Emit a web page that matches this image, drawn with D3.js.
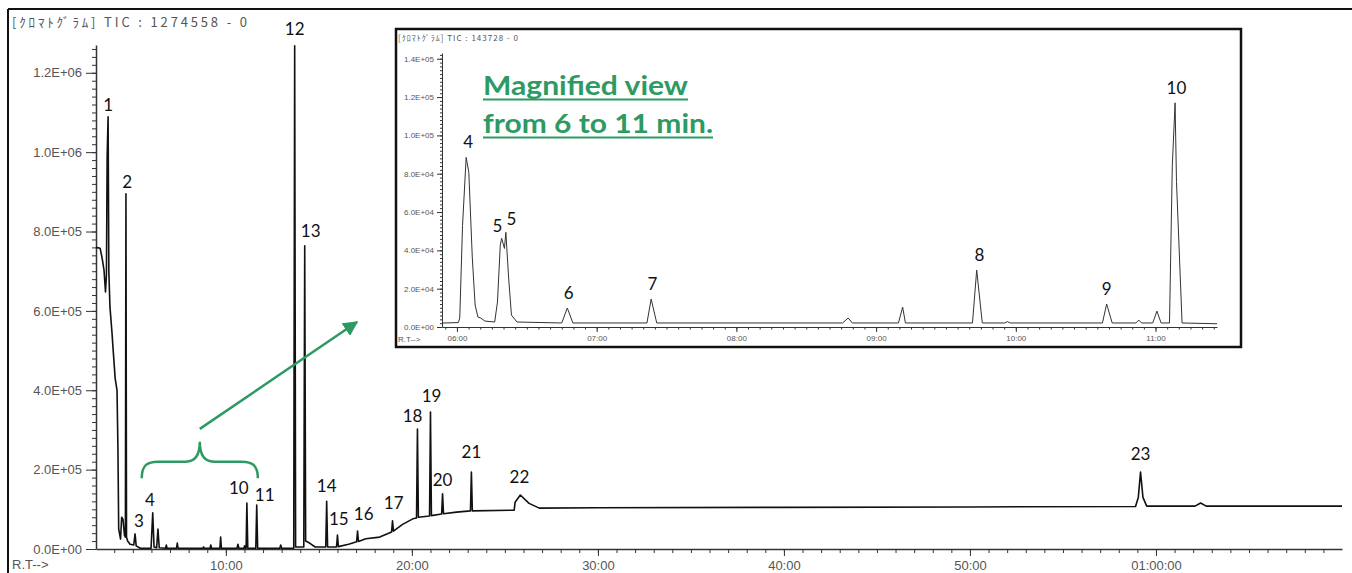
<!DOCTYPE html>
<html>
<head>
<meta charset="utf-8">
<script src="https://cdn.jsdelivr.net/npm/d3@7"></script>
<style>
  body { margin: 0; background: #fff; }
  svg { display: block; }
  .axis .tick text { font-family: "Liberation Sans", Arial, sans-serif; fill: #555; }
  .axis path, .axis line { stroke: #333; }
  .peak-label { font-family: Lato, "Open Sans", sans-serif; font-size: 17px; fill: #111; text-anchor: middle; }
  .header { font-family: "Noto Sans CJK JP", "Liberation Sans", sans-serif; fill: #555; }
</style>
</head>
<body>
<svg id="chart" width="1352" height="573"></svg>
<script>
// retention time (min), TIC intensity
const mainTrace = [
  [3.02, 760000], [3.24, 758000], [3.35, 733000], [3.45, 703000], [3.53, 648000],
  [3.58, 690000], [3.62, 990000], [3.67, 1089000], [3.71, 700000], [3.77, 610000],
  [3.88, 545000], [3.93, 510000], [4.05, 430000], [4.15, 400000], [4.20, 250000],
  [4.24, 50000], [4.34, 25000], [4.40, 80000], [4.47, 75000], [4.55, 35000],
  [4.60, 30000], [4.63, 895000], [4.66, 30000], [4.72, 20000], [4.85, 12000],
  [5.05, 10000], [5.12, 38000], [5.18, 8000], [5.40, 2000],
  [5.98, 2000], [6.07, 91000], [6.14, 5000], [6.28, 3000], [6.35, 50000], [6.42, 3000],
  [6.76, 2000], [6.80, 10000], [6.84, 2000], [7.35, 2000], [7.39, 15000], [7.43, 2000],
  [8.76, 2000], [8.80, 5000], [8.84, 2000], [9.15, 2000], [9.19, 10000], [9.23, 2000],
  [9.68, 2000], [9.72, 30000], [9.76, 2000], [10.60, 2000], [10.65, 12000], [10.70, 2000],
  [10.97, 2000], [11.01, 8000], [11.05, 2000], [11.09, 2000], [11.13, 116000], [11.18, 2000],
  [11.61, 2000], [11.66, 111000], [11.71, 2000], [12.90, 2000], [12.95, 10000], [13.00, 2000],
  [13.65, 2000], [13.70, 1268000], [13.75, 5000], [14.19, 5000], [14.24, 764000], [14.29, 20000],
  [14.50, 15000], [14.80, 5000], [15.37, 5000], [15.42, 120000], [15.47, 5000],
  [15.95, 5000], [16.00, 35000], [16.05, 6000], [16.60, 12000],
  [17.03, 18000], [17.08, 45000], [17.13, 19000], [17.52, 26000], [18.27, 30000],
  [18.91, 43000], [18.96, 71000], [19.01, 45000], [19.50, 62000], [20.05, 76000],
  [20.25, 78000], [20.30, 302000], [20.35, 80000], [20.95, 83000], [21.00, 345000], [21.05, 84000],
  [21.60, 88000], [21.65, 139000], [21.70, 89000], [22.40, 93000],
  [23.15, 96000], [23.20, 194000], [23.25, 96000], [25.50, 98000], [25.55, 118000],
  [25.83, 136000], [26.30, 115000], [26.85, 103000], [30.00, 104000], [40.00, 105000],
  [50.00, 106000], [58.90, 107000], [59.05, 130000], [59.17, 194000], [59.30, 130000],
  [59.50, 108000], [62.10, 108000], [62.40, 116000], [62.70, 108000], [70.00, 108000]
];

// label, rt, intensity at label baseline
const mainPeakLabels = [
  ["1", 3.67, 1104000], ["2", 4.69, 910000], ["3", 5.33, 55000], ["4", 5.92, 108000],
  ["10", 10.70, 139000], ["11", 12.09, 121000], ["12", 13.70, 1296000], ["13", 14.56, 786000],
  ["14", 15.42, 144000], ["15", 16.07, 60000], ["16", 17.41, 73000], ["17", 19.02, 101000],
  ["18", 20.04, 320000], ["19", 21.06, 371000], ["20", 21.65, 159000], ["21", 23.20, 229000],
  ["22", 25.78, 166000], ["23", 59.17, 224000]
];

// magnified 6-11 min window
const insetTrace = [
  [5.90, 2100], [6.01, 2300], [6.02, 4700], [6.04, 53000], [6.066, 88500], [6.085, 80700],
  [6.11, 36000], [6.13, 11500], [6.15, 5200], [6.17, 4700], [6.20, 3100], [6.27, 2600],
  [6.29, 13000], [6.31, 42700], [6.32, 46300], [6.34, 41000], [6.35, 49400], [6.37, 25500],
  [6.39, 6200], [6.43, 2600], [6.75, 2100], [6.79, 9900], [6.83, 2100], [7.36, 2100],
  [7.39, 14600], [7.43, 2100], [8.76, 2100], [8.80, 4700], [8.83, 2100], [9.16, 2100],
  [9.19, 10400], [9.21, 2100], [9.69, 2100], [9.72, 29700], [9.76, 2100], [9.92, 2100],
  [9.94, 2800], [9.96, 2100], [10.62, 2100], [10.65, 12000], [10.69, 2100], [10.86, 2100],
  [10.88, 3600], [10.90, 2100], [10.98, 2100], [11.01, 8300], [11.04, 2100], [11.10, 2100],
  [11.12, 84000], [11.14, 117000], [11.15, 76000], [11.19, 2100], [11.44, 1700]
];

const insetPeakLabels = [
  ["4", 6.08, 93200], ["5", 6.29, 49400], ["5", 6.39, 53100], ["6", 6.80, 14600],
  ["7", 7.40, 19300], ["8", 9.74, 34300], ["9", 10.65, 16700], ["10", 11.15, 121800]
];

const mainYTicks = [0, 200000, 400000, 600000, 800000, 1000000, 1200000];
const mainXTicks = [10, 20, 30, 40, 50, 60];
const insetYTicks = [0, 20000, 40000, 60000, 80000, 100000, 120000, 140000];
const insetXTicks = [6, 7, 8, 9, 10, 11];

const mainTitle = "[ｸﾛﾏﾄｸﾞﾗﾑ]  TIC : 1274558 - 0";
const insetTitle = "[ｸﾛﾏﾄｸﾞﾗﾑ]  TIC : 143728 - 0";
const noteLines = ["Magnified view", "from 6 to 11 min."];

const green = "#2e9a63";
const svg = d3.select("#chart");

const pad = (n) => String(n).padStart(2, "0");
const fmtRT = (m) =>
  m >= 60 ? `${pad(Math.floor(m / 60))}:${pad(m % 60)}:00` : `${pad(m)}:00`;
const fmtSci = (v) => {
  const [mant, ex] = v.toExponential(1).split("e");
  const n = +ex;
  return `${mant}E${n < 0 ? "-" : "+"}${pad(Math.abs(n))}`;
};

// outer frame (only top/left edges show)
svg.append("line").attr("x1", 8).attr("y1", 9).attr("x2", 1352).attr("y2", 9)
  .attr("stroke", "#111").attr("stroke-width", 2);
svg.append("line").attr("x1", 8).attr("y1", 9).attr("x2", 8).attr("y2", 573)
  .attr("stroke", "#111").attr("stroke-width", 2);

// ---- main chromatogram ----
const xMain = d3.scaleLinear().domain([3.02, 70]).range([96, 1342]);
const yMain = d3.scaleLinear().domain([0, 1270000]).range([549, 45]);

svg.append("text").attr("class", "header").attr("x", 12).attr("y", 27)
  .attr("textLength", 235).attr("lengthAdjust", "spacing")
  .style("font-size", "13px").text(mainTitle);

const yAxisG = svg.append("g").attr("class", "axis").attr("transform", "translate(96,0)");
yAxisG.call(d3.axisLeft(yMain).tickValues(d3.range(0, 1270000, 20000))
  .tickSize(4).tickSizeOuter(0).tickFormat(""));
yAxisG.append("g").call(d3.axisLeft(yMain).tickValues(mainYTicks)
  .tickSize(10).tickSizeOuter(0).tickPadding(4).tickFormat(fmtSci))
  .call((g) => g.select(".domain").remove());
yAxisG.selectAll("text").style("font-size", "13px");

const xAxisG = svg.append("g").attr("class", "axis").attr("transform", "translate(0,549)");
xAxisG.call(d3.axisBottom(xMain).tickValues(d3.range(4, 70, 1))
  .tickSize(4).tickSizeOuter(0).tickFormat(""));
xAxisG.append("g").call(d3.axisBottom(xMain).tickValues(mainXTicks)
  .tickSize(7).tickSizeOuter(0).tickPadding(5).tickFormat(fmtRT))
  .call((g) => g.select(".domain").remove());
xAxisG.selectAll("text").style("font-size", "13px");
svg.selectAll(".axis .domain").attr("stroke-width", 1.5);

svg.append("text").attr("x", 12).attr("y", 569)
  .style("font-family", "Liberation Sans, Arial, sans-serif").style("font-size", "13px")
  .attr("fill", "#555").text("R.T-->");

const mainLine = d3.line().x((d) => xMain(d[0])).y((d) => yMain(d[1]));
svg.append("path").datum(mainTrace).attr("d", mainLine)
  .attr("fill", "none").attr("stroke", "#111").attr("stroke-width", 1.6)
  .attr("stroke-linejoin", "round");

svg.append("g").selectAll("text").data(mainPeakLabels).join("text")
  .attr("class", "peak-label")
  .attr("x", (d) => xMain(d[1])).attr("y", (d) => yMain(d[2]))
  .text((d) => d[0]);

// ---- brace + arrow pointing to the magnified view ----
const bx0 = xMain(5.48), bx1 = xMain(11.72), bm = (bx0 + bx1) / 2;
const bBot = yMain(178000), bMid = yMain(220000), bTop = yMain(270000);
svg.append("path")
  .attr("d", `M${bx0},${bBot} C${bx0},${bMid + 3} ${bx0 + 6},${bMid} ${bx0 + 16},${bMid}
    L${bm - 14},${bMid} C${bm - 4},${bMid} ${bm},${bMid - 8} ${bm},${bTop}
    C${bm},${bMid - 8} ${bm + 4},${bMid} ${bm + 14},${bMid}
    L${bx1 - 16},${bMid} C${bx1 - 6},${bMid} ${bx1},${bMid + 3} ${bx1},${bBot}`)
  .attr("fill", "none").attr("stroke", green).attr("stroke-width", 2.5);

svg.append("defs").append("marker").attr("id", "arrowHead")
  .attr("viewBox", "0 0 10 10").attr("refX", 9).attr("refY", 5)
  .attr("markerWidth", 6).attr("markerHeight", 6).attr("orient", "auto")
  .append("path").attr("d", "M0,0 L10,5 L0,10 Z").attr("fill", green);
svg.append("line")
  .attr("x1", bm).attr("y1", bTop - 13).attr("x2", 357).attr("y2", 322)
  .attr("stroke", green).attr("stroke-width", 2.5).attr("marker-end", "url(#arrowHead)");

// ---- inset: magnified view ----
const inset = svg.append("g");
inset.append("rect").attr("x", 396).attr("y", 29).attr("width", 845).attr("height", 318)
  .attr("fill", "#fff").attr("stroke", "#111").attr("stroke-width", 2.5);

const xIn = d3.scaleLinear().domain([5.893, 11.44]).range([442, 1217]);
const yIn = d3.scaleLinear().domain([0, 143000]).range([327, 53]);

inset.append("text").attr("class", "header").attr("x", 398).attr("y", 41)
  .attr("textLength", 120).attr("lengthAdjust", "spacing")
  .style("font-size", "8px").text(insetTitle);

const yInG = inset.append("g").attr("class", "axis").attr("transform", "translate(442,0)");
yInG.call(d3.axisLeft(yIn).tickValues(d3.range(0, 143000, 2000))
  .tickSize(2).tickSizeOuter(0).tickFormat(""));
yInG.append("g").call(d3.axisLeft(yIn).tickValues(insetYTicks)
  .tickSize(5).tickSizeOuter(0).tickPadding(3).tickFormat(fmtSci))
  .call((g) => g.select(".domain").remove());
yInG.selectAll("text").style("font-size", "8px");

const xInG = inset.append("g").attr("class", "axis").attr("transform", "translate(0,327)");
xInG.call(d3.axisBottom(xIn).tickValues(d3.range(71, 138, 1).map((k) => k / 12))
  .tickSize(2.5).tickSizeOuter(0).tickFormat(""));
xInG.append("g").call(d3.axisBottom(xIn).tickValues(insetXTicks)
  .tickSize(5).tickSizeOuter(0).tickPadding(3).tickFormat(fmtRT))
  .call((g) => g.select(".domain").remove());
xInG.selectAll("text").style("font-size", "8px");
inset.selectAll(".axis .domain").attr("stroke-width", 1);

inset.append("text").attr("x", 398).attr("y", 342)
  .style("font-family", "Liberation Sans, Arial, sans-serif").style("font-size", "8px")
  .attr("fill", "#555").text("R.T-->");

const inLine = d3.line().x((d) => xIn(d[0])).y((d) => yIn(d[1]));
inset.append("path").datum(insetTrace).attr("d", inLine)
  .attr("fill", "none").attr("stroke", "#333").attr("stroke-width", 1)
  .attr("stroke-linejoin", "round");

inset.append("g").selectAll("text").data(insetPeakLabels).join("text")
  .attr("class", "peak-label")
  .attr("x", (d) => xIn(d[1])).attr("y", (d) => yIn(d[2]))
  .text((d) => d[0]);

// green note, underlined
const noteWidths = [205, 230];
noteLines.forEach((t, i) => {
  const yBase = 95 + i * 38;
  inset.append("text").attr("x", 483).attr("y", yBase)
    .attr("textLength", noteWidths[i]).attr("lengthAdjust", "spacingAndGlyphs")
    .style("font-family", "Lato, 'Open Sans', sans-serif").style("font-weight", 700)
    .style("font-size", "27px").attr("fill", green).text(t);
  inset.append("line").attr("x1", 483).attr("x2", 483 + noteWidths[i])
    .attr("y1", yBase + 4.5).attr("y2", yBase + 4.5)
    .attr("stroke", green).attr("stroke-width", 2);
});
</script>
</body>
</html>
